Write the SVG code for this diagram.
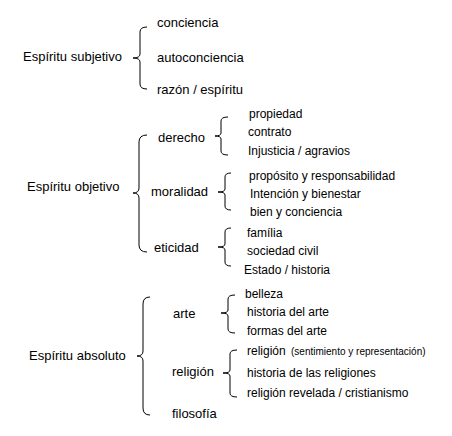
<svg xmlns="http://www.w3.org/2000/svg" width="452" height="436" viewBox="0 0 452 436">
<style>
text{font-family:"Liberation Sans",Arial,sans-serif;fill:#000}
.l1{font-size:13px}
.l2{font-size:13px}
.l3{font-size:12px}
.sm{font-size:10px}
.br{fill:none;stroke:#000;stroke-width:1}
</style>
<rect width="452" height="436" fill="#fff"/>
<g id="connectors">
<path class="br" d="M147,27 Q140,27 140,32 L140,54 Q140,58 133,58 Q140,58 140,62 L140,84 Q140,89 147,89"/>
<path class="br" d="M147,135 Q139,135 139,142 L139,188 Q139,193 133,193 Q139,193 139,198 L139,245 Q139,252 147,252"/>
<path class="br" d="M228,117 Q221,117 221,121 L221,133 Q221,136 215,136 Q221,136 221,139 L221,151 Q221,155 228,155"/>
<path class="br" d="M231,173 Q225,173 225,177 L225,189 Q225,192 218,192 Q225,192 225,195 L225,206 Q225,210 231,210"/>
<path class="br" d="M231,228 Q225,228 225,232 L225,244 Q225,247 218,247 Q225,247 225,250 L225,262 Q225,266 231,266"/>
<path class="br" d="M150,297 Q143,297 143,304 L143,351 Q143,356 137,356 Q143,356 143,361 L143,408 Q143,415 150,415"/>
<path class="br" d="M235,295 Q228,295 228,299 L228,310 Q228,313 221,313 Q228,313 228,316 L228,329 Q228,333 235,333"/>
<path class="br" d="M237,350 Q230,350 230,354 L230,370 Q230,373 223,373 Q230,373 230,376 L230,393 Q230,397 237,397"/>
</g>
<g id="subjetivo">
<text class="l1" x="23" y="61">Espíritu subjetivo</text>
<text class="l2" x="157" y="27">conciencia</text>
<text class="l2" x="157" y="62">autoconciencia</text>
<text class="l2" x="157" y="94">razón / espíritu</text>
</g>
<g id="objetivo">
<text class="l1" x="27" y="191">Espíritu objetivo</text>
</g>
<g id="derecho">
<text class="l2" x="158" y="142">derecho</text>
<text class="l3" x="249" y="118">propiedad</text>
<text class="l3" x="248" y="136">contrato</text>
<text class="l3" x="248" y="155">Injusticia / agravios</text>
</g>
<g id="moralidad">
<text class="l2" x="151" y="196">moralidad</text>
<text class="l3" x="249" y="180">propósito y responsabilidad</text>
<text class="l3" x="250" y="198">Intención y bienestar</text>
<text class="l3" x="250" y="216">bien y conciencia</text>
</g>
<g id="eticidad">
<text class="l2" x="154" y="252">eticidad</text>
<text class="l3" x="247" y="237">família</text>
<text class="l3" x="247" y="255">sociedad civil</text>
<text class="l3" x="244" y="274">Estado / historia</text>
</g>
<g id="absoluto">
<text class="l1" x="29" y="360">Espíritu absoluto</text>
</g>
<g id="arte">
<text class="l2" x="173" y="318">arte</text>
<text class="l3" x="245" y="298">belleza</text>
<text class="l3" x="247" y="316">historia del arte</text>
<text class="l3" x="247" y="335">formas del arte</text>
</g>
<g id="religion">
<text class="l2" x="172" y="376">religión</text>
<text class="l3" x="247" y="355">religión <tspan class="sm" dx="2">(sentimiento y representación)</tspan></text>
<text class="l3" x="247" y="377">historia de las religiones</text>
<text class="l3" x="247" y="397">religión revelada / cristianismo</text>
</g>
<g id="filosofia">
<text class="l2" x="172" y="418">filosofía</text>
</g>
</svg>
